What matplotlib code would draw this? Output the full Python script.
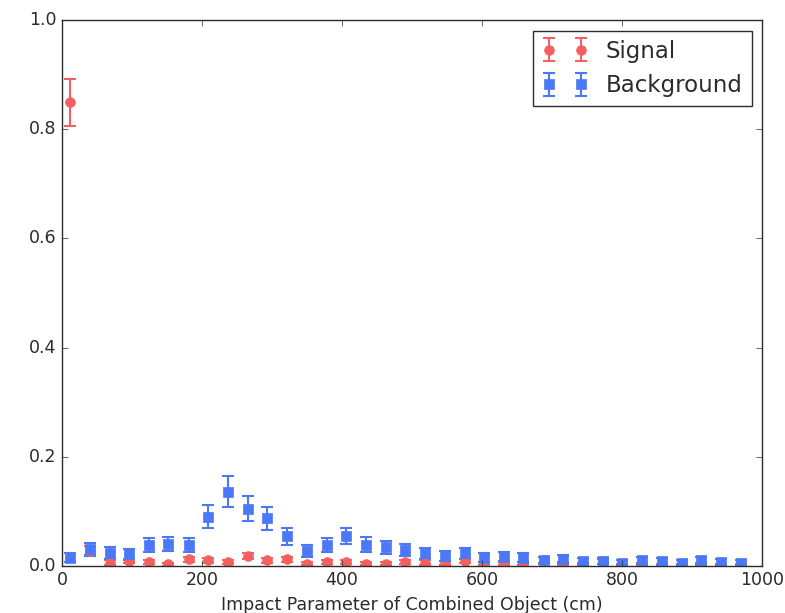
import numpy as np
import matplotlib
matplotlib.use('Agg')
import matplotlib.pyplot as plt

plt.style.use('classic')

## bin centres (cm) and normalised fractions
x = [11, 40, 68, 96, 124, 152, 181, 209, 237, 265, 293, 321, 350, 378, 406,
     434, 462, 490, 519, 547, 575, 603, 631, 659, 688, 716, 744, 772, 800,
     828, 857, 885, 913, 941, 969]

sig = [0.850, 0.028, 0.006, 0.009, 0.007, 0.003, 0.012, 0.010, 0.007, 0.018,
       0.010, 0.012, 0.004, 0.007, 0.007, 0.004, 0.004, 0.007, 0.006, 0.005,
       0.009, 0.004, 0.005, 0.004, 0.011, 0.004, 0.003, 0.008, 0.002, 0.003,
       0.002, 0.002, 0.003, 0.002, 0.002]
sig_err = [0.043, 0.008, 0.004, 0.004, 0.004, 0.003, 0.005, 0.005, 0.004, 0.006,
           0.005, 0.005, 0.003, 0.004, 0.004, 0.003, 0.003, 0.004, 0.004, 0.003,
           0.004, 0.003, 0.003, 0.003, 0.005, 0.003, 0.003, 0.004, 0.002, 0.003,
           0.002, 0.002, 0.003, 0.002, 0.002]

bkg = [0.015, 0.030, 0.024, 0.021, 0.038, 0.040, 0.038, 0.090, 0.136, 0.105,
       0.087, 0.054, 0.027, 0.038, 0.055, 0.039, 0.034, 0.029, 0.023, 0.018,
       0.023, 0.015, 0.016, 0.015, 0.010, 0.012, 0.009, 0.009, 0.006, 0.010,
       0.008, 0.006, 0.010, 0.007, 0.006]
bkg_err = [0.008, 0.012, 0.011, 0.010, 0.013, 0.013, 0.013, 0.021, 0.028, 0.023,
           0.021, 0.015, 0.011, 0.013, 0.015, 0.013, 0.012, 0.011, 0.010, 0.009,
           0.010, 0.008, 0.009, 0.008, 0.007, 0.007, 0.006, 0.006, 0.005, 0.007,
           0.006, 0.005, 0.007, 0.005, 0.005]

red = '#f45f5f'
blue = '#4a78f6'
txt = '#2b2b2b'

fig = plt.figure(figsize=(7.85, 6.13), dpi=100, facecolor='white')
ax = fig.add_axes([0.079, 0.077, 0.892, 0.890])

ax.errorbar(x, sig, yerr=sig_err, fmt='o', color=red, mec=red, ms=7,
            elinewidth=1.5, capsize=4, capthick=1.5, label='Signal')
ax.errorbar(x, bkg, yerr=bkg_err, fmt='s', color=blue, mec=blue, ms=7,
            elinewidth=1.5, capsize=4, capthick=1.5, label='Background')

ax.set_xlim(0, 1000)
ax.set_ylim(0, 1.0)
ax.set_xticks(range(0, 1001, 200))
ax.set_yticks(np.arange(0, 1.01, 0.2))
ax.tick_params(labelsize=12.5, direction='in', top=True, right=True,
               colors=txt, labelcolor=txt)
for s in ax.spines.values():
    s.set_color(txt)
ax.set_xlabel('Impact Parameter of Combined Object (cm)', fontsize=12.5, color=txt)

leg = ax.legend(loc='upper right', numpoints=2, fontsize=16.5, fancybox=False,
                borderaxespad=0.45)
leg.get_frame().set_edgecolor(txt)
for t in leg.get_texts():
    t.set_color(txt)

fig.savefig('out.png', dpi=100, facecolor='white')
